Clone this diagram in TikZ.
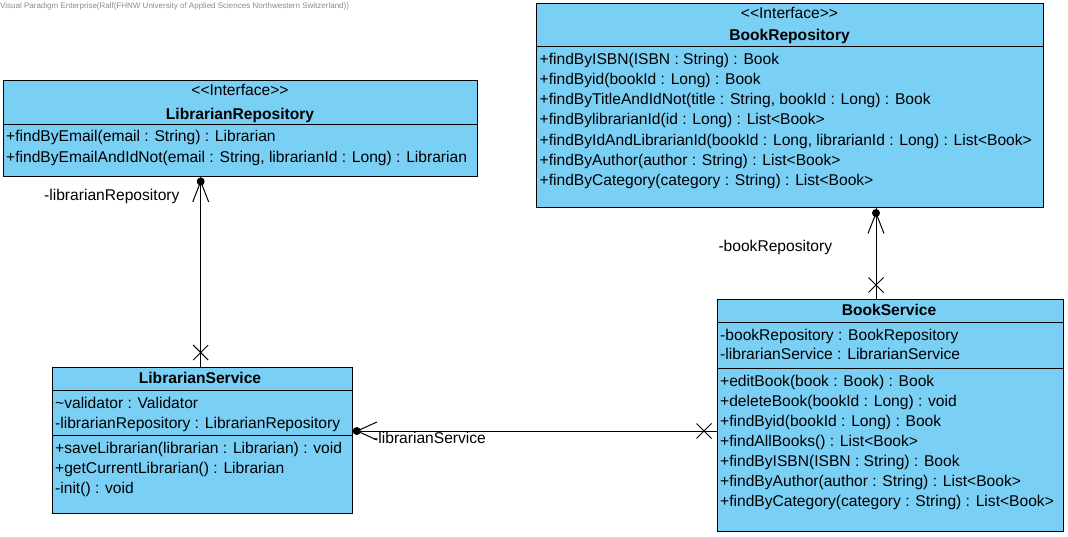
\documentclass[tikz,border=0pt]{standalone}
\usepackage{fontspec}
\setmainfont{Liberation Sans}
\definecolor{classblue}{RGB}{122,207,245}
\definecolor{wmgray}{RGB}{140,140,140}
\newcommand{\umlfont}{\fontsize{15.6}{18}\selectfont}
\newcommand{\stereo}[1]{<\kern0pt<#1>\kern0pt>}
\tikzset{
  umlbox/.style={draw=black, fill=classblue, line width=1pt, anchor=north west, inner sep=0pt, outer sep=0pt},
  mem/.style={anchor=base west, inner sep=0pt, font=\umlfont},
  ster/.style={anchor=base, inner sep=0pt, font=\umlfont},
  ttl/.style={anchor=base, inner sep=0pt, font=\umlfont\bfseries},
  sepline/.style={draw=black, line width=1pt},
  assoc/.style={draw=black, line width=1pt},
  lbl/.style={anchor=base west, inner sep=0pt, font=\umlfont},
}
\begin{document}
\begin{tikzpicture}[x=1pt, y=-1pt]
\useasboundingbox[fill=white] (0,0) rectangle (1068,536);

% watermark
\node[anchor=base west, inner sep=0pt, text=wmgray, font=\fontsize{8}{9}\selectfont] (wm) at (0,8.5)
  {Visual Paradigm Enterprise(Ralf(FHNW University of Applied Sciences Northwestern Switzerland))};

% ---------- LibrarianRepository ----------
\node[umlbox, minimum width=474pt, minimum height=96pt] (lr) at (3,80) {};
\draw[sepline] (lr.west |- 0,124) -- (lr.east |- 0,124);
\node[ster] (lrs) at (240,95) {\stereo{Interface}};
\node[ttl] (lrn) at (240,119.3) {LibrarianRepository};
\node[mem] (lrm1) at (6,141.7) {+findByEmail(email : String) : Librarian};
\node[mem] (lrm2) at (6,162.3) {+findByEmailAndIdNot(email : String, librarianId : Long) : Librarian};

% ---------- BookRepository ----------
\node[umlbox, minimum width=507pt, minimum height=204pt] (br) at (536,3) {};
\draw[sepline] (br.west |- 0,46) -- (br.east |- 0,46);
\node[ster] (brs) at (789.5,18.3) {\stereo{Interface}};
\node[ttl] (brn) at (789.5,40) {BookRepository};
\node[mem] (brm1) at (539.5,64) {+findByISBN(ISBN : String) : Book};
\node[mem] (brm2) at (539.5,84.5) {+findByid(bookId : Long) : Book};
\node[mem] (brm3) at (539.5,104.7) {+findByTitleAndIdNot(title : String, bookId : Long) : Book};
\node[mem] (brm4) at (539.5,124.8) {+findBylibrarianId(id : Long) : List<Book>};
\node[mem] (brm5) at (539.5,145) {+findByIdAndLibrarianId(bookId : Long, librarianId : Long) : List<Book>};
\node[mem] (brm6) at (539.5,165) {+findByAuthor(author : String) : List<Book>};
\node[mem] (brm7) at (539.5,185.3) {+findByCategory(category : String) : List<Book>};

% ---------- LibrarianService ----------
\node[umlbox, minimum width=300pt, minimum height=146pt] (ls) at (52,367) {};
\draw[sepline] (ls.west |- 0,390) -- (ls.east |- 0,390);
\draw[sepline] (ls.west |- 0,435) -- (ls.east |- 0,435);
\node[ttl] (lsn) at (200,383) {LibrarianService};
\node[mem] (lsa1) at (55,408) {\textasciitilde validator : Validator};
\node[mem] (lsa2) at (55,428) {-librarianRepository : LibrarianRepository};
\node[mem] (lsm1) at (55,453) {+saveLibrarian(librarian : Librarian) : void};
\node[mem] (lsm2) at (55,473) {+getCurrentLibrarian() : Librarian};
\node[mem] (lsm3) at (55,493) {-init() : void};

% ---------- BookService ----------
\node[umlbox, minimum width=346pt, minimum height=232pt] (bs) at (717,299) {};
\draw[sepline] (bs.west |- 0,322) -- (bs.east |- 0,322);
\draw[sepline] (bs.west |- 0,368) -- (bs.east |- 0,368);
\node[ttl] (bsn) at (889,315) {BookService};
\node[mem] (bsa1) at (720,340) {-bookRepository : BookRepository};
\node[mem] (bsa2) at (720,359.5) {-librarianService : LibrarianService};
\node[mem] (bsm1) at (720,386) {+editBook(book : Book) : Book};
\node[mem] (bsm2) at (720,406) {+deleteBook(bookId : Long) : void};
\node[mem] (bsm3) at (720,426.5) {+findByid(bookId : Long) : Book};
\node[mem] (bsm4) at (720,446.5) {+findAllBooks() : List<Book>};
\node[mem] (bsm5) at (720,466.5) {+findByISBN(ISBN : String) : Book};
\node[mem] (bsm6) at (720,486.5) {+findByAuthor(author : String) : List<Book>};
\node[mem] (bsm7) at (720,506.5) {+findByCategory(category : String) : List<Book>};

% ---------- Associations ----------
% LibrarianService -> LibrarianRepository
\coordinate (c1a) at (200.7,0 |- lr.south);
\coordinate (c1b) at (200.7,0 |- ls.north);
\draw[assoc] (c1a) -- (c1b);
\fill (c1a) ++(0,5.5) circle (4pt);
\draw[assoc] (c1a) ++(-8,26) -- ++(8,-20.5) -- ++(8,20.5);
\draw[assoc] (c1b) ++(-7.5,-22) -- ++(15,15);
\draw[assoc] (c1b) ++(7.5,-22) -- ++(-15,15);
\node[lbl] (l1) at (44,200.7) {-librarianRepository};

% BookService -> BookRepository
\coordinate (c2a) at (876,0 |- br.south);
\coordinate (c2b) at (876,0 |- bs.north);
\draw[assoc] (c2a) -- (c2b);
\fill (c2a) ++(0,6) circle (4pt);
\draw[assoc] (c2a) ++(-8,26.5) -- ++(8,-20.5) -- ++(8,20.5);
\draw[assoc] (c2b) ++(-7.5,-21.5) -- ++(15,15);
\draw[assoc] (c2b) ++(7.5,-21.5) -- ++(-15,15);
\node[lbl] (l2) at (718.3,251.7) {-bookRepository};

% BookService -> LibrarianService
\coordinate (c3a) at (ls.east |- 0,431);
\coordinate (c3b) at (bs.west |- 0,431);
\draw[assoc] (c3a) -- (c3b);
\fill (c3a) ++(4.7,0) circle (4pt);
\draw[assoc] (c3a) ++(25,-9) -- ++(-20,9) -- ++(20,9);
\draw[assoc] (c3b) ++(-20.5,-7.5) -- ++(15,15);
\draw[assoc] (c3b) ++(-20.5,7.5) -- ++(15,-15);
\node[lbl] (l3) at (373,443.3) {-librarianService};
\end{tikzpicture}
\end{document}
